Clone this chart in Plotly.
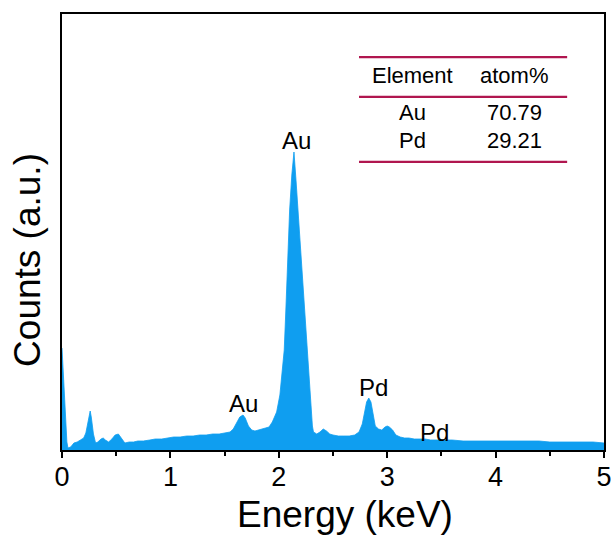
import plotly.graph_objects as go

# Spectrum (energy in keV, counts in a.u.)
energy = [0.00, 0.01, 0.02, 0.03, 0.045, 0.055, 0.08, 0.11, 0.14, 0.17, 0.20, 0.22, 0.24, 0.25, 0.26, 0.27, 0.29, 0.31, 0.33,
          0.36, 0.38, 0.40, 0.43, 0.46, 0.49, 0.52, 0.55, 0.58, 0.62, 0.66, 0.70, 0.75, 0.81, 0.86, 0.92, 0.97,
          1.03, 1.09, 1.15, 1.21, 1.27, 1.33, 1.39, 1.45, 1.50, 1.55, 1.58, 1.61, 1.64, 1.67, 1.69,
          1.72, 1.75, 1.78, 1.81, 1.84, 1.88, 1.91, 1.94, 1.98, 2.01, 2.03, 2.05, 2.065, 2.08, 2.10, 2.12, 2.14,
          2.16, 2.18, 2.20, 2.22, 2.24, 2.26, 2.28, 2.29, 2.30, 2.31, 2.32, 2.35, 2.38, 2.41, 2.44, 2.47, 2.50,
          2.55, 2.60, 2.65, 2.70, 2.74, 2.77, 2.79, 2.81, 2.83, 2.85, 2.87, 2.89, 2.92, 2.95, 2.98, 3.00, 3.02,
          3.05, 3.08, 3.12, 3.16, 3.20, 3.25, 3.30, 3.35, 3.40, 3.50, 3.60, 3.70, 3.80, 3.90, 4.00, 4.10, 4.20,
          4.30, 4.40, 4.50, 4.60, 4.70, 4.80, 4.90, 5.00]
counts = [102, 80, 55, 30, 8, 2, 3, 7, 8, 10, 12, 17, 28, 36, 39, 33, 16, 7, 8,
          11, 12, 10, 8, 11, 15, 16, 12, 7, 8, 8, 9, 9, 10, 11, 11, 12,
          13, 13, 14, 14, 15, 15, 16, 16, 17, 18, 21, 27, 33, 35, 32,
          24, 20, 19, 20, 21, 22, 23, 28, 38, 55, 75, 100, 140, 180, 240, 275, 298,
          268, 235, 200, 162, 130, 105, 68, 50, 32, 24, 18, 16, 18, 21, 19, 16, 15,
          14, 14, 14, 15, 18, 26, 38, 48, 52, 48, 36, 24, 21, 20, 23, 24, 23,
          20, 15, 13, 12, 12, 11, 11, 11, 10, 10, 10, 9, 9, 9, 9, 9, 9,
          9, 9, 8, 8, 8, 8, 8, 7]

peak_labels = ["Au", "Au", "Pd", "Pd"]
peak_x = [1.674, 2.165, 2.87, 3.44]
peak_y = [47, 310, 63, 18]

table_header = ["Element", "atom%"]
table_elements = ["Au", "Pd"]
table_values = ["70.79", "29.21"]

blue = "#0f9ef0"
crimson = "#b0164f"
font = "Liberation Sans, Arial, sans-serif"

fig = go.Figure()
fig.add_trace(go.Scatter(x=energy, y=counts, mode="lines", fill="tozeroy",
                         line=dict(color=blue, width=0.8), fillcolor=blue,
                         showlegend=False, hoverinfo="skip"))

for lab, x, y in zip(peak_labels, peak_x, peak_y):
    fig.add_annotation(x=x, y=y, text=lab, showarrow=False, xanchor="center", yanchor="middle",
                       font=dict(family=font, size=24, color="black"))

# Inset table
x0, x1 = 0.548, 0.932
for yl in [0.901, 0.810, 0.661]:
    fig.add_shape(type="line", xref="paper", yref="paper", x0=x0, x1=x1, y0=yl, y1=yl,
                  line=dict(color=crimson, width=2.2))
col_x = [0.6476, 0.834]
for cx, t in zip(col_x, table_header):
    fig.add_annotation(xref="paper", yref="paper", x=cx, y=0.858, text=t, showarrow=False,
                       xanchor="center", yanchor="middle",
                       font=dict(family=font, size=22, color="black"))
row_y = [0.775, 0.711]
for ry, el, v in zip(row_y, table_elements, table_values):
    fig.add_annotation(xref="paper", yref="paper", x=col_x[0], y=ry, text=el, showarrow=False,
                       xanchor="center", yanchor="middle",
                       font=dict(family=font, size=22, color="black"))
    fig.add_annotation(xref="paper", yref="paper", x=col_x[1], y=ry, text=v, showarrow=False,
                       xanchor="center", yanchor="middle",
                       font=dict(family=font, size=22, color="black"))

# Axis titles
fig.add_annotation(xref="paper", yref="paper", x=0.523, y=-0.149, text="Energy (keV)",
                   showarrow=False, xanchor="center", yanchor="middle",
                   font=dict(family=font, size=37, color="black"))
fig.add_annotation(xref="paper", yref="paper", x=-0.0627, y=0.436, text="Counts (a.u.)",
                   showarrow=False, textangle=-90, xanchor="center", yanchor="middle",
                   font=dict(family=font, size=37, color="black"))

fig.update_layout(
    width=612, height=537,
    margin=dict(l=62, r=8, t=14, b=87, autoexpand=False),
    paper_bgcolor="white", plot_bgcolor="white",
    font=dict(family=font, color="black"),
)
fig.update_xaxes(range=[0, 5], tickmode="array", tickvals=[0, 1, 2, 3, 4, 5],
                 ticks="outside", ticklen=6, tickwidth=1.5, tickcolor="black",
                 minor=dict(tickvals=[0.5, 1.5, 2.5, 3.5, 4.5], ticks="outside", ticklen=4,
                            tickwidth=1.5, tickcolor="black"),
                 showline=True, linecolor="black", linewidth=2, mirror=True,
                 showgrid=False, zeroline=False, automargin=False,
                 ticklabelstandoff=-4,
                 tickfont=dict(family=font, size=27))
fig.update_yaxes(range=[0, 436], showticklabels=False, ticks="",
                 showline=True, linecolor="black", linewidth=2, mirror=True,
                 showgrid=False, zeroline=False, automargin=False)

# remove the default page margin so the 612x537 figure fills the window exactly
fig.write_html("out.html", config={"displayModeBar": False},
               post_script="document.body.style.margin='0';document.body.style.overflow='hidden';")
